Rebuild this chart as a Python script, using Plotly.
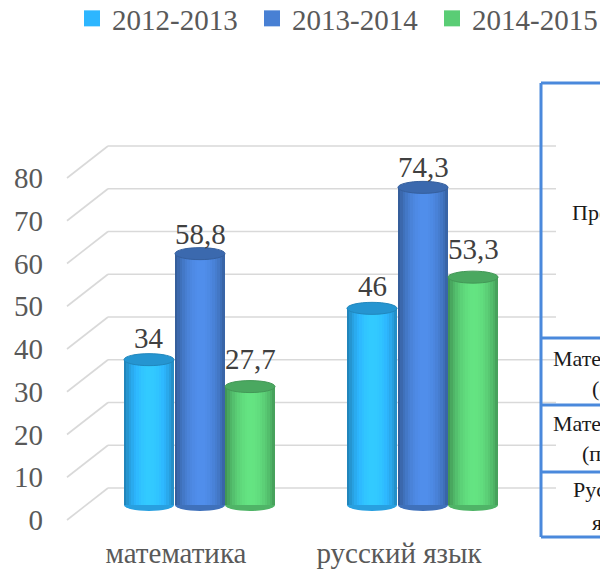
import numpy as np
import plotly.graph_objects as go

# ---------------- data ----------------
categories = ["математика", "русский язык"]
series_names = ["2012-2013", "2013-2014", "2014-2015"]
values_2012_2013 = [34, 46]
values_2013_2014 = [58.8, 74.3]
values_2014_2015 = [27.7, 53.3]
y_tick_values = [0, 10, 20, 30, 40, 50, 60, 70, 80]
table_lines = ["Предмет", "Математика", "(базовая)", "Математика", "(профильная)", "Русский", "язык"]

series_values = [values_2012_2013, values_2013_2014, values_2014_2015]

# ---------------- style / geometry (window pixels) ----------------
W, H = 600, 570
L, R, T, B = 44, 0, 0, 37
PW, PH = W - L - R, H - T - B
PLOT_LEFT = L
PLOT_TOP = T
PLOT_BOTTOM = T + PH

PX_PER_CAT = 223.0
CAT0_PX = 200.0
PX_PER_UNIT = 4.275
BAR_BASE_PX = 505.0
LABEL_BASE_PX = 520.0
WALL_DEPTH_PX = 32.0
BAR_W_PX = 50.0
SERIES_OFFSET_PX = [-51.0, 0.0, 50.0]
ELLIPSE_H_PX = 12.0
LABEL_SHIFT_PX = [22, 20, 28]
N_STRIPS = 20

base_colors = [(45, 182, 255), (72, 128, 212), (90, 205, 117)]
FONT = "Liberation Serif, Times New Roman, serif"
TEXT_GRAY = "#595959"
GRID = "#D9D9D9"
TABLE_BLUE = "#4A89DC"


def rgb(c):
    return "rgb(%d,%d,%d)" % tuple(int(max(0, min(255, round(v)))) for v in c)


def shade(c, m):
    return rgb([v * m for v in c])


def paper_x(px):
    return (px - PLOT_LEFT) / PW


def paper_y(py):
    return (PLOT_BOTTOM - py) / PH


x0 = -(CAT0_PX - PLOT_LEFT) / PX_PER_CAT
x1 = x0 + PW / PX_PER_CAT
y_bar_range = [(BAR_BASE_PX - PLOT_BOTTOM) / PX_PER_UNIT, (BAR_BASE_PX - PLOT_TOP) / PX_PER_UNIT]
y_lab_range = [(LABEL_BASE_PX - PLOT_BOTTOM) / PX_PER_UNIT, (LABEL_BASE_PX - PLOT_TOP) / PX_PER_UNIT]

bar_w = BAR_W_PX / PX_PER_CAT
offsets = [o / PX_PER_CAT for o in SERIES_OFFSET_PX]
ell_h = ELLIPSE_H_PX / PX_PER_UNIT
depth = WALL_DEPTH_PX / PX_PER_UNIT

fig = go.Figure()

# legend entries
for s, name in enumerate(series_names):
    fig.add_trace(go.Scatter(
        x=[None], y=[None], mode="markers", name=name,
        marker=dict(symbol="square", size=16, color=rgb(base_colors[s])),
        hoverinfo="skip"))


def strip_factor(t):
    return 0.66 + 0.42 * np.sin(np.pi * t) ** 0.7 + 0.06 * t


# cylinder bodies built from shaded strips
for j in range(N_STRIPS):
    t = (j + 0.5) / N_STRIPS
    xs, ys, cols = [], [], []
    for s, vals in enumerate(series_values):
        for i, v in enumerate(vals):
            xs.append(i + offsets[s] + bar_w * (t - 0.5))
            ys.append(v)
            cols.append(shade(base_colors[s], strip_factor(t)))
    fig.add_trace(go.Bar(
        x=xs, y=ys, base=0, width=bar_w / N_STRIPS * 1.02,
        marker=dict(color=cols, line=dict(width=0)),
        showlegend=False, hoverinfo="skip"))

shapes = []
# 3D gridlines (front diagonal + back wall)
for v in y_tick_values:
    shapes.append(dict(type="line", xref="paper", yref="y2", layer="below",
                       x0=paper_x(67), y0=v, x1=paper_x(108), y1=v + depth,
                       line=dict(color=GRID, width=1.6)))
    shapes.append(dict(type="line", xref="paper", yref="y2", layer="below",
                       x0=paper_x(108), y0=v + depth, x1=paper_x(556), y1=v + depth,
                       line=dict(color=GRID, width=1.6)))

annotations = []
for s, vals in enumerate(series_values):
    for i, v in enumerate(vals):
        c = i + offsets[s]
        shapes.append(dict(type="circle", xref="x", yref="y", layer="below",
                           x0=c - bar_w / 2, x1=c + bar_w / 2,
                           y0=-ell_h / 2, y1=ell_h / 2,
                           fillcolor=shade(base_colors[s], 0.88), line=dict(width=0)))
        shapes.append(dict(type="circle", xref="x", yref="y", layer="above",
                           x0=c - bar_w / 2, x1=c + bar_w / 2,
                           y0=v - ell_h / 2, y1=v + ell_h / 2,
                           fillcolor=shade(base_colors[s], 0.82),
                           line=dict(color=shade(base_colors[s], 0.74), width=1)))
        annotations.append(dict(x=c, y=v, xref="x", yref="y", showarrow=False,
                                text=("%g" % v).replace(".", ","),
                                yshift=LABEL_SHIFT_PX[s], yanchor="middle",
                                font=dict(family=FONT, size=29, color="#404040")))

# table on the right (partially outside the picture)
row_lines_px = [83, 338, 405, 472, 537]
shapes.append(dict(type="line", xref="paper", yref="paper", layer="above",
                   x0=paper_x(541), x1=paper_x(541), y0=paper_y(83), y1=paper_y(537),
                   line=dict(color=TABLE_BLUE, width=3)))
for py in row_lines_px:
    shapes.append(dict(type="line", xref="paper", yref="paper", layer="above",
                       x0=paper_x(541), x1=paper_x(620), y0=paper_y(py), y1=paper_y(py),
                       line=dict(color=TABLE_BLUE, width=3)))

table_pos_px = [(570, 213), (551, 358), (590, 388), (551, 423), (580, 453), (571, 489), (590, 522)]
for text, (px, py) in zip(table_lines, table_pos_px):
    annotations.append(dict(x=paper_x(px), y=paper_y(py), xref="paper", yref="paper",
                            xanchor="left", yanchor="middle", showarrow=False, text=text,
                            font=dict(family=FONT, size=22, color="#1a1a1a")))

fig.update_layout(
    width=W, height=H,
    margin=dict(l=L, r=R, t=T, b=B, autoexpand=False),
    paper_bgcolor="white", plot_bgcolor="white",
    barmode="overlay", bargap=0,
    font=dict(family=FONT, size=29, color=TEXT_GRAY),
    showlegend=True,
    legend=dict(orientation="h", x=paper_x(72), xanchor="left", y=paper_y(-7), yanchor="top",
                entrywidth=135,
                font=dict(family=FONT, size=29, color=TEXT_GRAY),
                bgcolor="rgba(0,0,0,0)", itemclick=False),
    xaxis=dict(range=[x0, x1], tickvals=[0, 1], ticktext=categories,
               showgrid=False, zeroline=False, showline=False, ticks="",
               ticklabelshift=-24, automargin=False,
               tickfont=dict(family=FONT, size=29, color=TEXT_GRAY)),
    yaxis=dict(range=y_bar_range, showgrid=False, zeroline=False, showline=False,
               showticklabels=False, ticks=""),
    yaxis2=dict(range=y_lab_range, overlaying="y", side="left", anchor="x",
                tickvals=y_tick_values, showgrid=False, zeroline=False, showline=False,
                ticks="", automargin=False,
                tickfont=dict(family=FONT, size=29, color=TEXT_GRAY)),
    shapes=shapes, annotations=annotations,
)

fig.add_trace(go.Scatter(x=[None], y=[None], yaxis="y2", showlegend=False, hoverinfo="skip"))

fig.write_html("out.html",
               config={"displayModeBar": False},
               post_script="document.body.style.margin='0';document.body.style.overflow='hidden';")
